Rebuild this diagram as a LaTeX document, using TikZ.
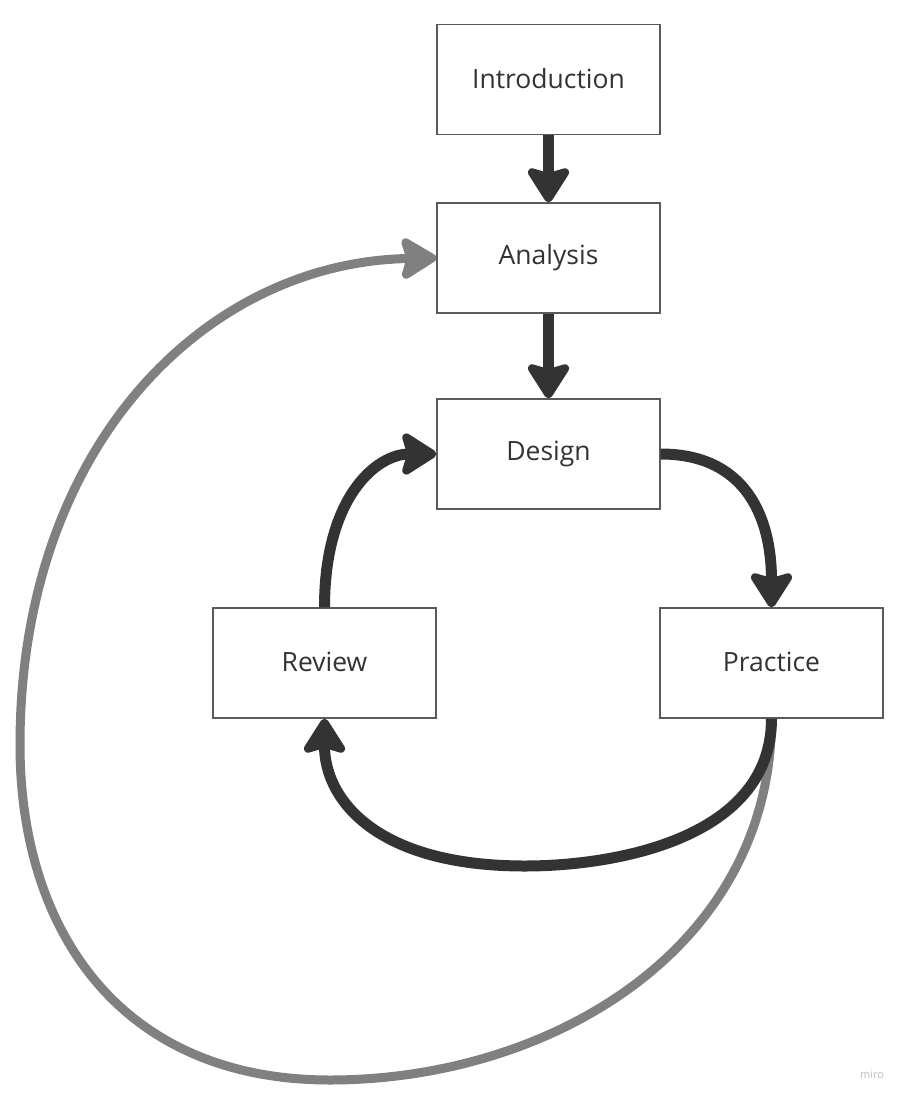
\documentclass[tikz,border=0pt]{standalone}
\usepackage{fontspec}
\setmainfont{Open Sans}
\usetikzlibrary{arrows.meta}
\definecolor{ink}{HTML}{333333}
\definecolor{loop}{HTML}{808080}
\definecolor{frame}{HTML}{5A5A5A}
\newcommand{\boxlabel}[1]{\raisebox{2.5pt}{#1}}
\begin{document}
\begin{tikzpicture}[x=1pt,y=-1pt,
  box/.style={draw=frame,line width=1.3pt,fill=white,minimum width=223pt,minimum height=110pt,inner sep=0pt,text=ink,font=\fontsize{26.5}{32}\selectfont},
  darkarrow/.style={draw=ink,line width=11pt,-{Stealth[length=40pt,width=50pt,inset=7pt,round]}},
  greyarrow/.style={draw=loop,line width=9pt,-{Stealth[length=41pt,width=49pt,inset=7pt,round]}}]
\useasboundingbox (0,0) rectangle (908,1101);
\fill[white] (0,0) rectangle (908,1101);
\node[box] (intro) at (548.5,79.5) {\boxlabel{Introduction}};
\node[box] (analysis) at (548.5,258) {\boxlabel{Analysis}};
\node[box] (design) at (548.5,454) {\boxlabel{Design}};
\node[box] (review) at (324.5,663) {\boxlabel{Review}};
\node[box] (practice) at (771.5,663) {\boxlabel{Practice}};
\draw[greyarrow] (practice.south) .. controls +(0,230) and +(220,0) .. (330,1080) coordinate (gbot)
  .. controls +(-210,0) and +(0,185) .. (20,745) coordinate (gleft)
  .. controls +(0,-300) and +(-230,4) .. (analysis.west);
\draw[darkarrow] (intro.south) -- (analysis.north);
\draw[darkarrow] (analysis.south) -- (design.north);
\draw[darkarrow] (design.east) .. controls +(85,0) and +(0,-90) .. (practice.north);
\draw[darkarrow] (review.north) .. controls +(0,-110) and +(-60,0) .. (design.west);
\draw[darkarrow] (practice.south) .. controls +(0,120) and +(90,0) .. (525,866) coordinate (dbot)
  .. controls +(-150,0) and +(0,80) .. (review.south);
\node[text=black!25,font=\fontsize{11}{13}\selectfont,anchor=center] (miro) at (872,1075) {miro};
\end{tikzpicture}
\end{document}
